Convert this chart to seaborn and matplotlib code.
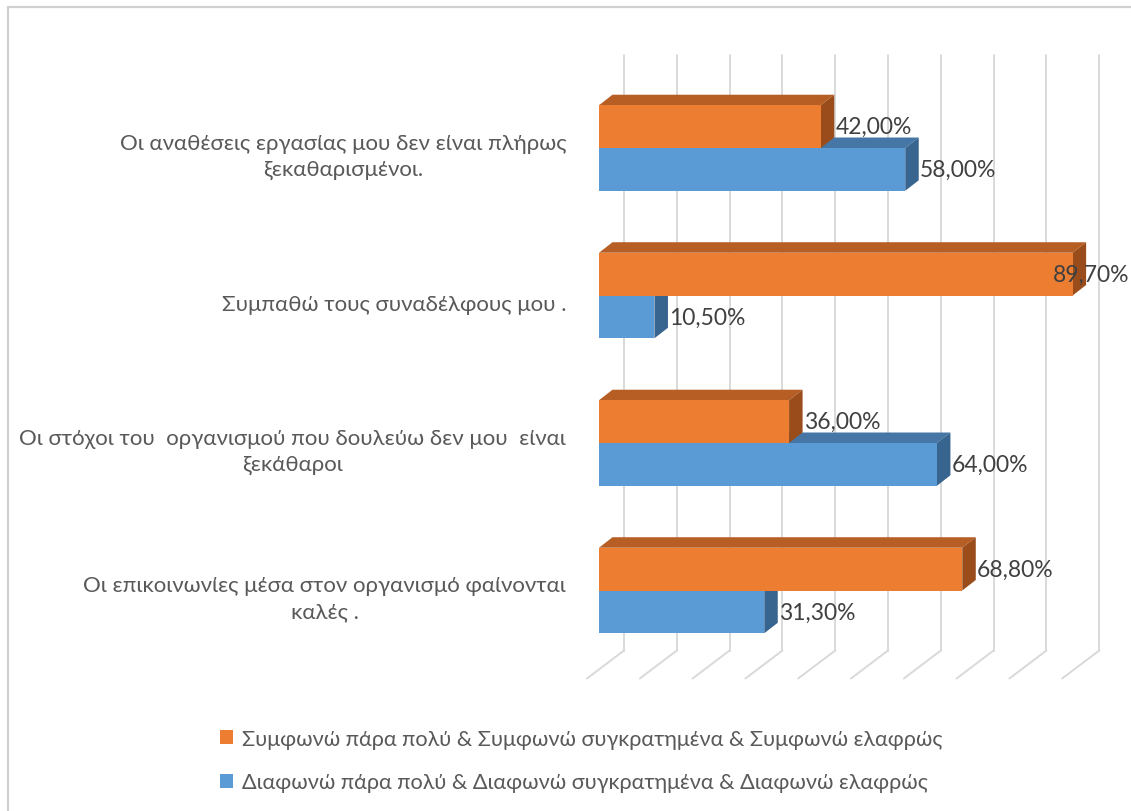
import matplotlib
matplotlib.use("Agg")
import matplotlib.pyplot as plt
from matplotlib.patches import Polygon, Patch
from matplotlib.lines import Line2D
from matplotlib.transforms import IdentityTransform
import pandas as pd
import seaborn as sns

# ---- data -------------------------------------------------------------
categories = [
    "Οι αναθέσεις εργασίας μου δεν είναι πλήρως\nξεκαθαρισμένοι.",
    "Συμπαθώ τους συναδέλφους μου .",
    "Οι στόχοι του  οργανισμού που δουλεύω δεν μου  είναι\nξεκάθαροι",
    "Οι επικοινωνίες μέσα στον οργανισμό φαίνονται\nκαλές .",
]
series_names = [
    "Συμφωνώ πάρα πολύ & Συμφωνώ συγκρατημένα & Συμφωνώ ελαφρώς",
    "Διαφωνώ πάρα πολύ & Διαφωνώ συγκρατημένα & Διαφωνώ ελαφρώς",
]
agree = [42.00, 89.70, 36.00, 68.80]
disagree = [58.00, 10.50, 64.00, 31.30]
grid_ticks = [0, 10, 20, 30, 40, 50, 60, 70, 80, 90, 100]

# ---- style ------------------------------------------------------------
sns.set_theme(style="white")
plt.rcParams["font.family"] = ["Lato", "Noto Sans", "DejaVu Sans"]

ORANGE, BLUE = "#ED7D31", "#5B9BD5"
ORANGE_TOP, ORANGE_SIDE = "#B65E24", "#9A4D1B"
BLUE_TOP, BLUE_SIDE = "#4676A6", "#386590"
GRID = "#D9D9D9"
TEXT = "#595959"

W, H = 1131, 812
fig = plt.figure(figsize=(W / 100, H / 100), dpi=100)
fig.patch.set_facecolor("white")

# front plane of the 3-D plot area (pixel geometry)
left_px, right_px, top_px, bot_px = 599, 1127, 74, 670
ax = fig.add_axes([left_px / W, 1 - bot_px / H,
                   (right_px - left_px) / W, (bot_px - top_px) / H])

df = pd.DataFrame({
    "category": categories * 2,
    "value": agree + disagree,
    "series": [series_names[0]] * len(agree) + [series_names[1]] * len(disagree),
})

sns.barplot(data=df, x="value", y="category", hue="series", orient="h",
            hue_order=series_names, palette=[ORANGE, BLUE], saturation=1,
            width=0.58, legend=False, ax=ax)

ax.set_xlim(0, 100)
center0, spacing = 149, 147.5
ax.set_ylim((bot_px - center0) / spacing, -(center0 - top_px) / spacing)
ax.patch.set_visible(False)
for s in ax.spines.values():
    s.set_visible(False)
ax.set_xlabel("")
ax.set_ylabel("")
ax.set_xticks([])
ax.set_yticks([])

ident = IdentityTransform()

# category labels, right-aligned left of the bars, centred on the floor row
for i, cat in enumerate(categories):
    _, yc = ax.transData.transform((0, i))
    ax.text(566, yc - 8, cat, transform=ident, ha="right", va="center",
            multialignment="center", linespacing=1.38, fontsize=16,
            color=TEXT, clip_on=False)

# depth offsets in display pixels (x right, y up)
WALL = (25, 18.5)      # back wall relative to bar front plane
FLOOR = (-12, -9.5)    # front edge of floor relative to bar front plane
DEPTH = (13.5, 10.5)   # bar depth

# back wall gridlines and floor lines
ylo, yhi = ax.get_ylim()
for v in grid_ticks:
    (xb, yb), (_, yt) = ax.transData.transform([(v, ylo), (v, yhi)])
    if xb + WALL[0] > W:
        continue
    fig.add_artist(Line2D([xb + WALL[0], xb + WALL[0]],
                          [yb + WALL[1], yt + WALL[1]],
                          color=GRID, lw=1.4, transform=ident, zorder=-2))
    fig.add_artist(Line2D([xb + WALL[0], xb + FLOOR[0]],
                          [yb + WALL[1], yb + FLOOR[1]],
                          color=GRID, lw=1.4, transform=ident, zorder=-2))

# 3-D faces and value labels
renderer = fig.canvas.get_renderer()
styles = [(ORANGE_TOP, ORANGE_SIDE, 5), (BLUE_TOP, BLUE_SIDE, 3)]
values = [agree, disagree]
for cont, (top_c, side_c, z), vals in zip(ax.containers, styles, values):
    for bar, val in zip(cont.patches, vals):
        bar.set_zorder(z)
        bar.set_edgecolor("none")
        x0, y0 = bar.get_x(), bar.get_y()
        x1, y1 = x0 + bar.get_width(), y0 + bar.get_height()
        (dx0, dyA), (dx1, dyB) = ax.transData.transform([(x0, y0), (x1, y1)])
        ytop, ybot = max(dyA, dyB), min(dyA, dyB)
        ddx, ddy = DEPTH
        top_face = Polygon([(dx0, ytop), (dx1, ytop), (dx1 + ddx, ytop + ddy),
                            (dx0 + ddx, ytop + ddy)], closed=True,
                           facecolor=top_c, edgecolor="none",
                           transform=ident, clip_on=False, zorder=z - 1)
        side_face = Polygon([(dx1, ybot), (dx1, ytop), (dx1 + ddx, ytop + ddy),
                             (dx1 + ddx, ybot + ddy)], closed=True,
                            facecolor=side_c, edgecolor="none",
                            transform=ident, clip_on=False, zorder=z - 1)
        ax.add_patch(top_face)
        ax.add_patch(side_face)

        label = f"{val:.2f}%".replace(".", ",")
        t = ax.text(dx1 + ddx + 1, (ytop + ybot) / 2, label, transform=ident,
                    ha="left", va="center", fontsize=16.5, color="#404040",
                    clip_on=False, zorder=10)
        ext = t.get_window_extent(renderer)
        if ext.x1 > W - 2:
            t.set_x(dx1 + ddx + 1 - (ext.x1 - (W - 2)))

# legend under the plot
handles = [Patch(facecolor=ORANGE, edgecolor="none"),
           Patch(facecolor=BLUE, edgecolor="none")]
fig.legend(handles, series_names, loc="upper left",
           bbox_to_anchor=(211 / W, 1 - 721 / H), frameon=False,
           fontsize=15.6, labelcolor=TEXT, handlelength=0.62, handleheight=0.62,
           handletextpad=0.42, labelspacing=1.1, borderaxespad=0)

# chart frame
fig.add_artist(Line2D([8, W], [H - 8, H - 8], color="#D0D0D0", lw=1.6,
                      transform=ident))
fig.add_artist(Line2D([8, 8], [0, H - 8], color="#D0D0D0", lw=1.6,
                      transform=ident))

fig.savefig("out.png", dpi=100, facecolor="white")
